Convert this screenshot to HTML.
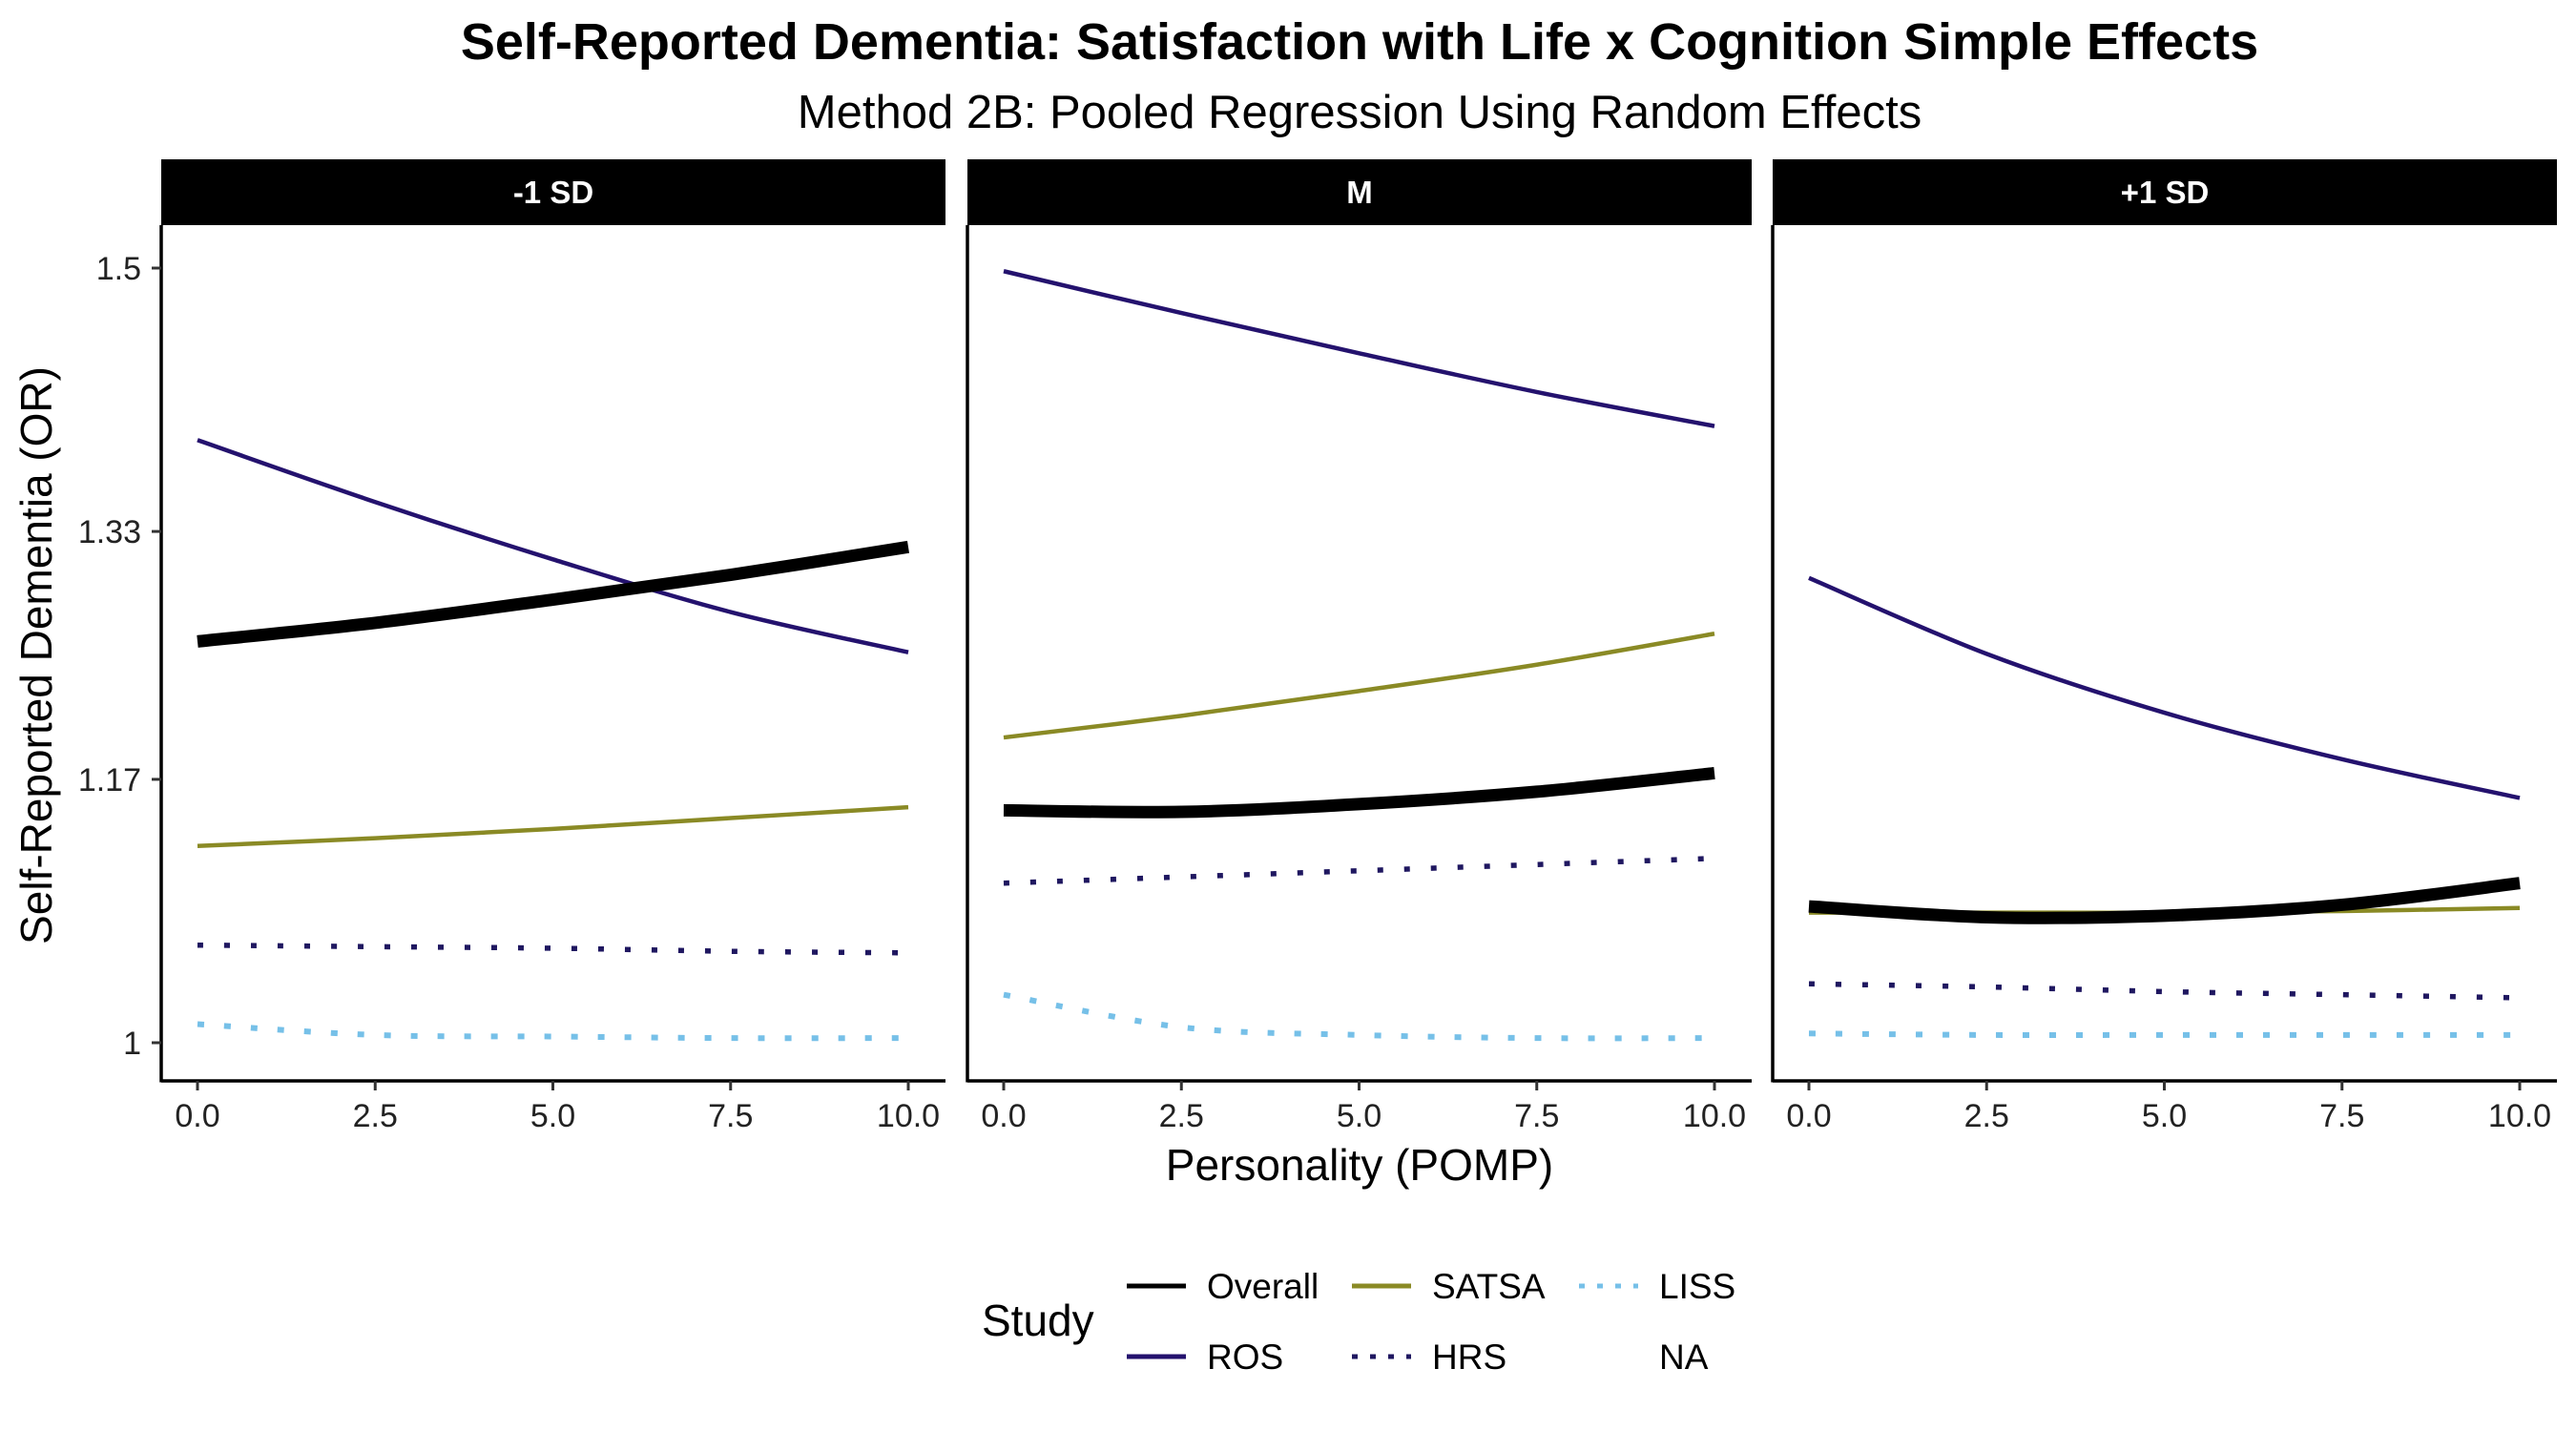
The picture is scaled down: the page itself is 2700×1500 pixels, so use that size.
<!DOCTYPE html>
<html><head><meta charset="utf-8"><style>
html,body{margin:0;padding:0;background:#fff;}
svg{display:block;font-family:"Liberation Sans",Arial,sans-serif;}
</style></head><body>
<svg id="chart" width="2700" height="1500" viewBox="0 0 2700 1500">
<text x="1425" y="62" text-anchor="middle" font-size="54" font-weight="bold">Self-Reported Dementia: Satisfaction with Life x Cognition Simple Effects</text>
<text x="1425" y="134" text-anchor="middle" font-size="49">Method 2B: Pooled Regression Using Random Effects</text>
<text transform="translate(54,687) rotate(-90)" text-anchor="middle" font-size="46">Self-Reported Dementia (OR)</text>
<text x="1425" y="1237" text-anchor="middle" font-size="46">Personality (POMP)</text>
<g id="panels"></g>
<g id="legend">
<text x="1029" y="1400" font-size="46">Study</text>
</g>
</svg>
<script>
const xVals = [0, 2.5, 5, 7.5, 10];
const panelLabels = ["-1 SD", "M", "+1 SD"];
const seriesNames = ["SATSA", "HRS", "LISS", "ROS", "Overall"];
const yTicks = [1, 1.17, 1.33, 1.5];
const yTickLabels = ["1", "1.17", "1.33", "1.5"];
const xTicks = [0, 2.5, 5, 7.5, 10];
const xTickLabels = ["0.0", "2.5", "5.0", "7.5", "10.0"];
// values per panel [-1 SD, M, +1 SD]
const overallVals = [[1.259,1.271,1.286,1.302,1.320],[1.150,1.149,1.154,1.162,1.174],[1.088,1.081,1.082,1.089,1.103]];
const rosVals = [[1.389,1.349,1.312,1.278,1.252],[1.498,1.471,1.445,1.420,1.398],[1.300,1.251,1.213,1.183,1.158]];
const satsaVals = [[1.127,1.132,1.138,1.145,1.152],[1.197,1.211,1.227,1.244,1.264],[1.084,1.084,1.084,1.085,1.087]];
const hrsVals = [[1.063,1.062,1.061,1.059,1.058],[1.103,1.107,1.111,1.115,1.119],[1.038,1.036,1.033,1.031,1.029]];
const lissVals = [[1.012,1.005,1.004,1.003,1.003],[1.031,1.010,1.005,1.003,1.003],[1.006,1.005,1.005,1.005,1.005]];

const NS = "http://www.w3.org/2000/svg";
const panelLeft = [169, 1014, 1858], panelW = 822, plotTop = 236, plotBottom = 1133;
function yScale(v){ return 1093 - (v - 1) / 0.5 * (1093 - 281); }
function xScale(p, v){ return panelLeft[p] + 38 + v / 10 * 745; }
const styles = {
  Overall:{color:"#000000", width:13, dash:null, vals:overallVals},
  ROS:{color:"#24126e", width:4.5, dash:null, vals:rosVals},
  SATSA:{color:"#8a8a25", width:4.5, dash:null, vals:satsaVals},
  HRS:{color:"#1f1760", width:5.5, dash:"6 22", vals:hrsVals},
  LISS:{color:"#76c0e8", width:6, dash:"7 21", vals:lissVals}
};
function mk(tag, attrs, parent){ const e=document.createElementNS(NS,tag); for(const k in attrs) e.setAttribute(k,attrs[k]); parent.appendChild(e); return e; }
function smoothPath(pts){
  let d = "M"+pts[0][0]+","+pts[0][1];
  for(let i=0;i<pts.length-1;i++){
    const p0=pts[Math.max(i-1,0)], p1=pts[i], p2=pts[i+1], p3=pts[Math.min(i+2,pts.length-1)];
    const c1=[p1[0]+(p2[0]-p0[0])/6, p1[1]+(p2[1]-p0[1])/6];
    const c2=[p2[0]-(p3[0]-p1[0])/6, p2[1]-(p3[1]-p1[1])/6];
    d += " C"+c1[0]+","+c1[1]+" "+c2[0]+","+c2[1]+" "+p2[0]+","+p2[1];
  }
  return d;
}
const panels = document.getElementById("panels");
panelLabels.forEach((lab, p) => {
  const g = mk("g", {}, panels);
  
  
  const strip = mk("rect", {x:panelLeft[p], y:167, width:panelW, height:69, fill:"#000"}, g);
  
  
  const st = mk("text", {x:panelLeft[p]+panelW/2, y:213, "text-anchor":"middle", "font-size":33, "font-weight":"bold", fill:"#fff"}, g);
  st.textContent = lab;
  
  
  const xa = mk("line", {x1:panelLeft[p], x2:panelLeft[p]+panelW, y1:plotBottom, y2:plotBottom, stroke:"#000", "stroke-width":3.5}, g);
  
  
  const ya = mk("line", {x1:panelLeft[p], x2:panelLeft[p], y1:plotTop, y2:plotBottom+1.5, stroke:"#000", "stroke-width":3.5}, g);
  
  
  xTicks.forEach((t,i) => {
    const x = xScale(p,t);
    const tk = mk("line", {x1:x, x2:x, y1:plotBottom, y2:plotBottom+10, stroke:"#333", "stroke-width":3}, g);
    
    
    const tl = mk("text", {x:x, y:1181, "text-anchor":"middle", "font-size":34, fill:"#222"}, g);
    tl.textContent = xTickLabels[i];
    
    
  });
  if (p === 0) {
    yTicks.forEach((t,i) => {
      const y = yScale(t);
      const tk = mk("line", {x1:panelLeft[0]-10, x2:panelLeft[0], y1:y, y2:y, stroke:"#333", "stroke-width":3}, g);
      
      
      const tl = mk("text", {x:148, y:y+12, "text-anchor":"end", "font-size":34, fill:"#222"}, g);
      tl.textContent = yTickLabels[i];
      
      
    });
  }
  seriesNames.forEach(name => {
    const s = styles[name];
    const pts = xVals.map((xv,i) => [xScale(p,xv), yScale(s.vals[p][i])]);
    const attrs = {d:smoothPath(pts), fill:"none", stroke:s.color, "stroke-width":s.width};
    if (s.dash) attrs["stroke-dasharray"] = s.dash;
    const path = mk("path", attrs, g);
    
    
  });
});
const legend = document.getElementById("legend");
const legendItems = [
  {name:"Overall", x:1181, y:1348, s:styles.Overall},
  {name:"ROS", x:1181, y:1422, s:styles.ROS},
  {name:"SATSA", x:1417, y:1348, s:styles.SATSA},
  {name:"HRS", x:1417, y:1422, s:styles.HRS},
  {name:"LISS", x:1655, y:1348, s:styles.LISS},
  {name:"NA", x:1655, y:1422, s:null}
];
legendItems.forEach(it => {
  if (it.s) {
    const a = {x1:it.x, x2:it.x+62, y1:it.y, y2:it.y, stroke:it.s.color, "stroke-width":5};
    if (it.s.dash) a["stroke-dasharray"] = "6 13";
    const k = mk("line", a, legend);
    
    
  }
  const t = mk("text", {x:it.x+84, y:it.y+13, "font-size":37}, legend);
  t.textContent = it.name;
  
  
});
</script>
</body></html>
